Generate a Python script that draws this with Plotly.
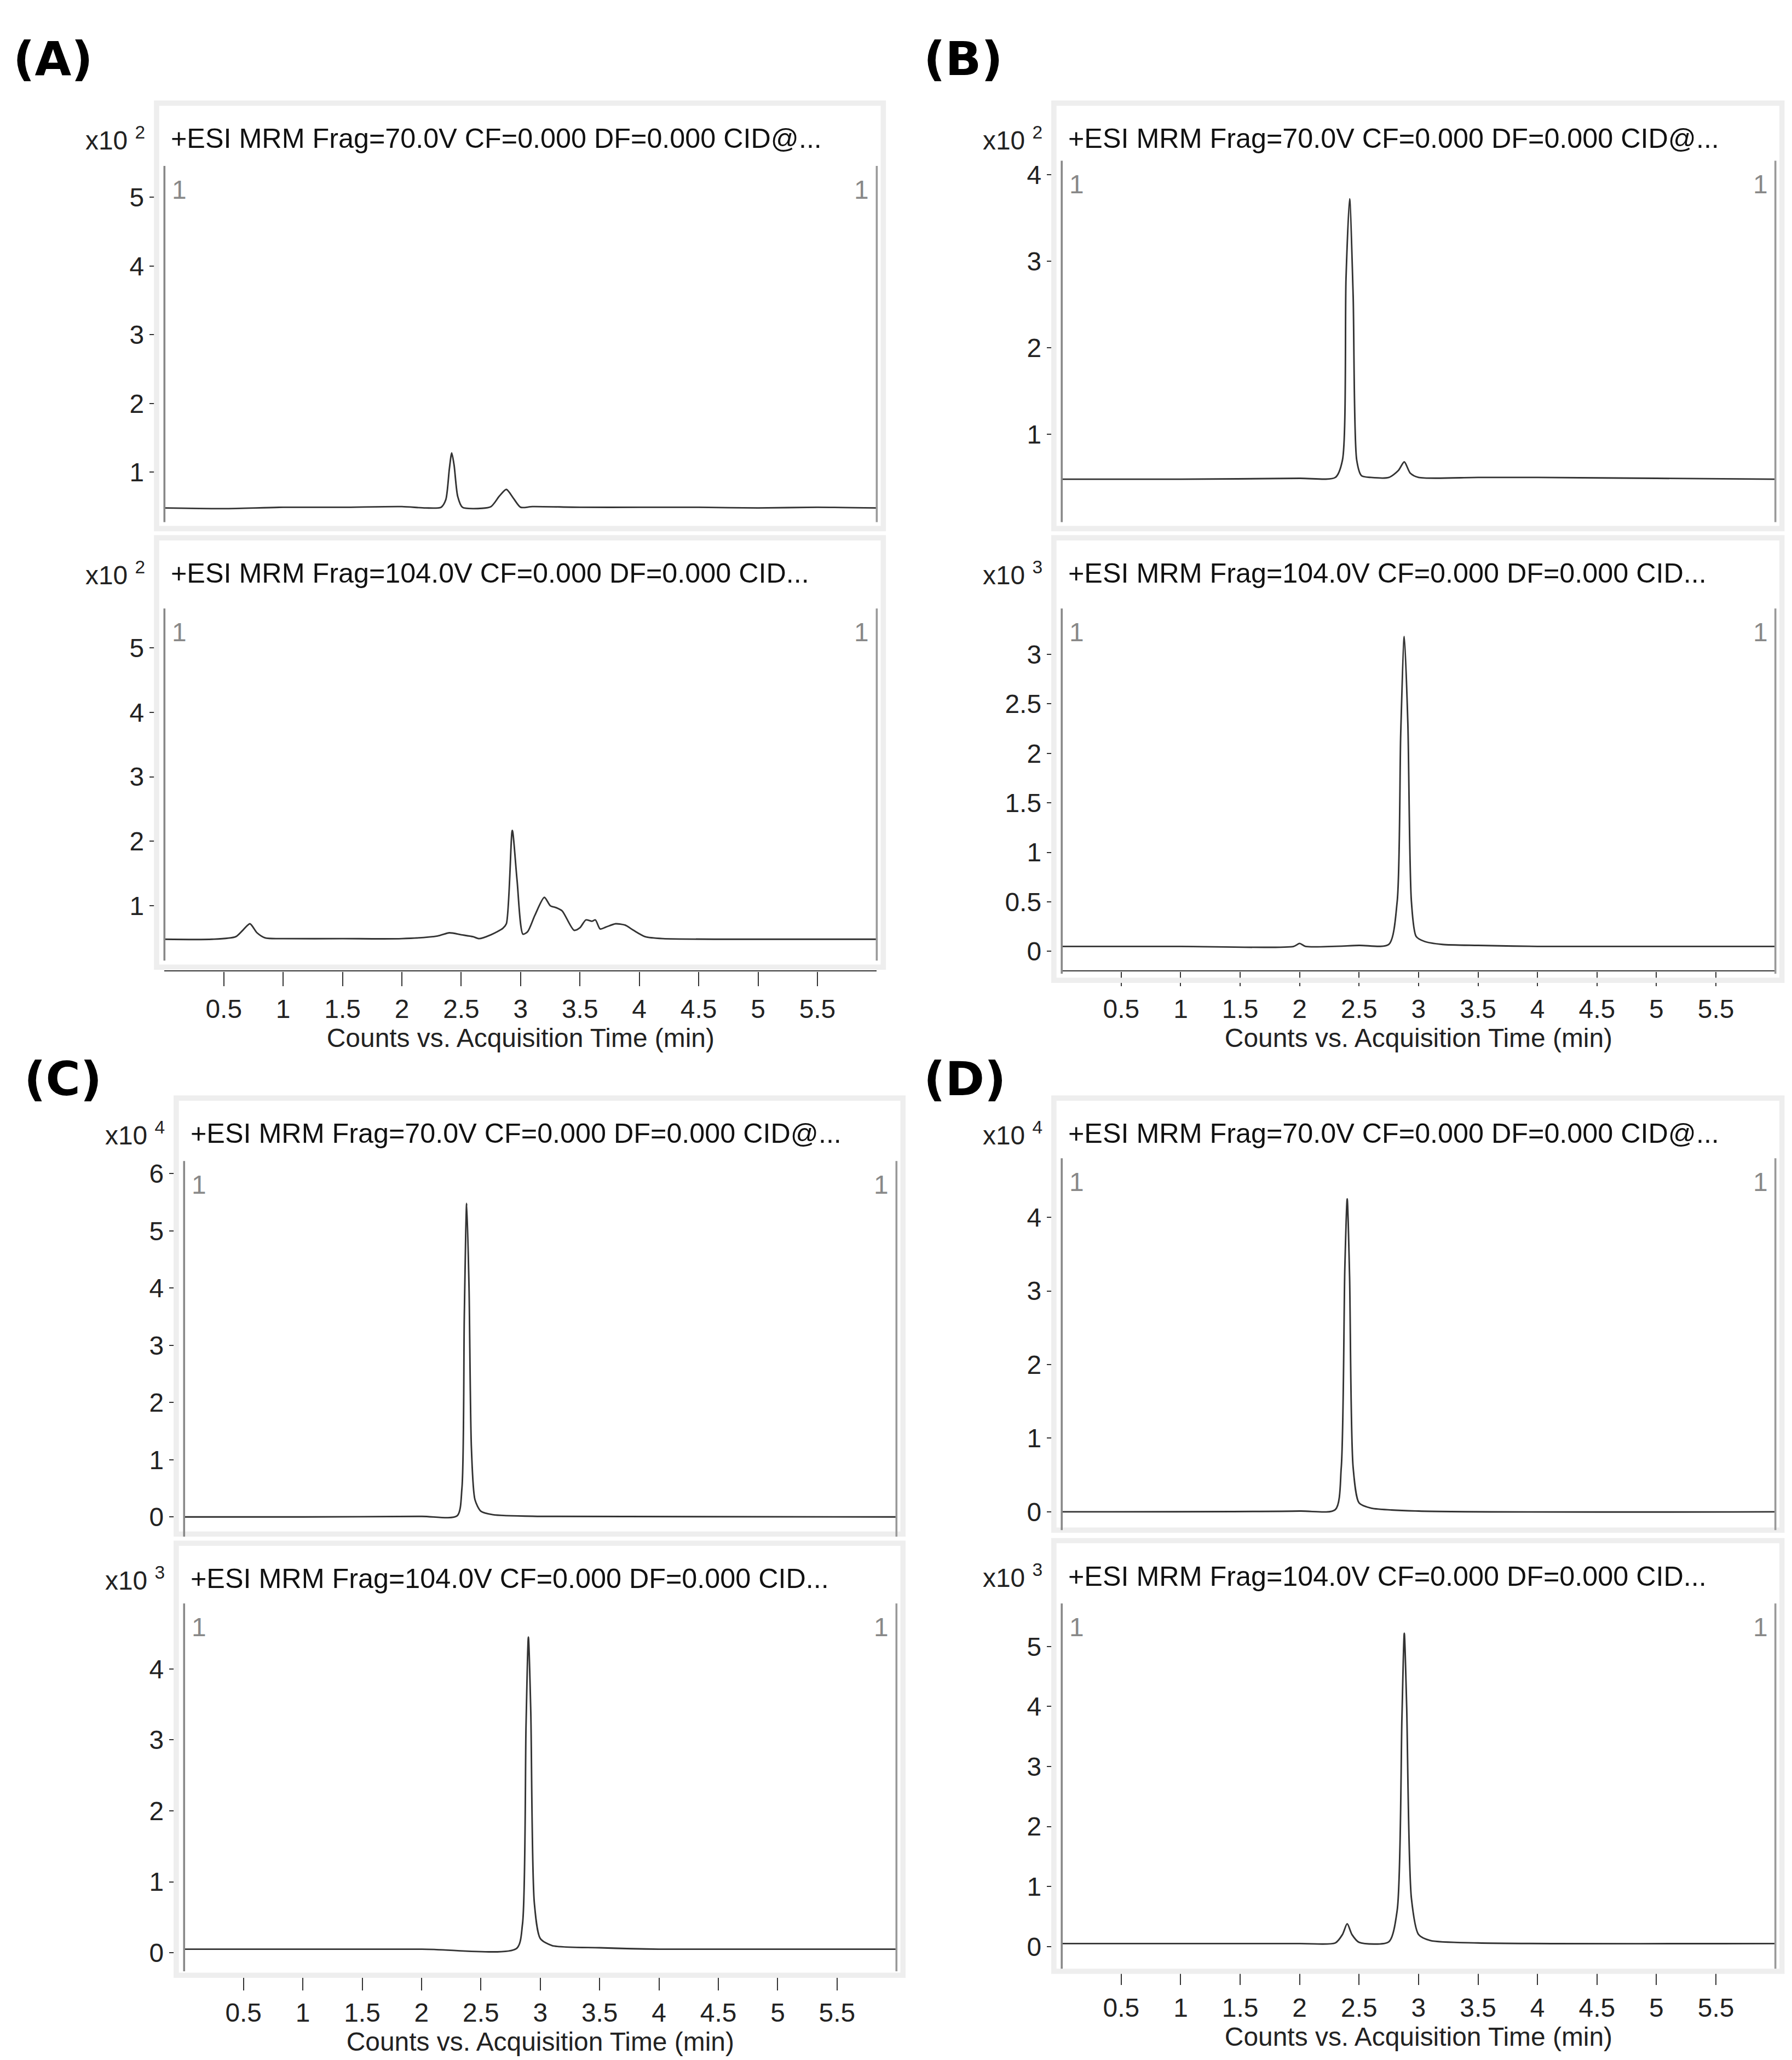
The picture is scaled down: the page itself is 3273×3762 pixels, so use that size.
import plotly.graph_objects as go

# chromatogram traces (time in min, counts in panel units)
a_top_t = [0, 0.5, 1, 1.5, 2, 2.2, 2.33, 2.37, 2.40, 2.42, 2.44, 2.47, 2.51, 2.6, 2.75, 2.82, 2.88, 2.94, 3.0, 3.1, 3.5, 4, 4.5, 5, 5.5, 6]
a_top_y = [0.48, 0.47, 0.49, 0.49, 0.50, 0.48, 0.49, 0.6, 1.05, 1.28, 1.1, 0.65, 0.49, 0.47, 0.5, 0.65, 0.75, 0.62, 0.49, 0.50, 0.49, 0.49, 0.49, 0.48, 0.49, 0.48]

a_bot_t = [0, 0.4, 0.6, 0.66, 0.72, 0.78, 0.85, 1, 1.5, 2, 2.3, 2.4, 2.5, 2.6, 2.65, 2.75, 2.85, 2.88, 2.93, 2.97, 3.02, 3.06, 3.12, 3.2, 3.25, 3.3,
           3.35, 3.45, 3.5, 3.55, 3.6, 3.63, 3.67, 3.72, 3.8, 3.88, 3.95, 4.05, 4.2, 5, 6]
a_bot_y = [0.48, 0.48, 0.52, 0.62, 0.72, 0.58, 0.5, 0.49, 0.49, 0.49, 0.53, 0.58, 0.55, 0.52, 0.49, 0.55, 0.65, 0.72, 2.17, 1.4, 0.56, 0.6, 0.85, 1.13, 1.0, 0.97,
           0.92, 0.62, 0.66, 0.78, 0.76, 0.78, 0.64, 0.67, 0.72, 0.70, 0.62, 0.52, 0.49, 0.48, 0.48]

b_top_t = [0, 1, 2, 2.3, 2.36, 2.39, 2.42, 2.45, 2.48, 2.52, 2.6, 2.75, 2.83, 2.88, 2.93, 3.0, 3.5, 4, 5, 6]
b_top_y = [0.48, 0.48, 0.49, 0.5, 0.7, 2.8, 3.72, 2.6, 0.7, 0.52, 0.5, 0.5, 0.58, 0.68, 0.55, 0.5, 0.5, 0.5, 0.49, 0.48]

b_bot_t = [0, 1, 1.95, 2.0, 2.05, 2.5, 2.75, 2.82, 2.85, 2.88, 2.91, 2.94, 2.98, 3.05, 3.2, 3.5, 4, 6]
b_bot_y = [0.05, 0.05, 0.05, 0.08, 0.05, 0.06, 0.07, 0.5, 2.2, 3.18, 2.3, 0.5, 0.15, 0.1, 0.07, 0.06, 0.05, 0.05]

c_top_t = [0, 1, 2, 2.3, 2.34, 2.36, 2.38, 2.40, 2.42, 2.45, 2.5, 2.6, 3, 6]
c_top_y = [0, 0, 0.01, 0.02, 0.5, 3.5, 5.48, 4, 1.2, 0.3, 0.1, 0.04, 0.01, 0]

c_bot_t = [0, 2, 2.8, 2.85, 2.88, 2.90, 2.92, 2.95, 3.0, 3.1, 3.5, 4, 6]
c_bot_y = [0.05, 0.05, 0.06, 0.4, 3.2, 4.45, 3.4, 0.7, 0.2, 0.1, 0.07, 0.05, 0.05]

d_top_t = [0, 2, 2.3, 2.35, 2.38, 2.40, 2.42, 2.45, 2.5, 2.6, 3, 6]
d_top_y = [0, 0.01, 0.03, 0.6, 3.3, 4.25, 3.2, 0.6, 0.12, 0.05, 0.01, 0]

d_bot_t = [0, 2, 2.3, 2.36, 2.40, 2.44, 2.5, 2.75, 2.82, 2.86, 2.88, 2.90, 2.94, 3.0, 3.1, 3.5, 6]
d_bot_y = [0.05, 0.05, 0.06, 0.2, 0.38, 0.2, 0.07, 0.08, 0.6, 3.8, 5.22, 4.0, 0.8, 0.2, 0.1, 0.06, 0.05]

x_ticks = [0.5, 1, 1.5, 2, 2.5, 3, 3.5, 4, 4.5, 5, 5.5]
x_tick_text = ['0.5', '1', '1.5', '2', '2.5', '3', '3.5', '4', '4.5', '5', '5.5']

title_70 = '+ESI MRM Frag=70.0V CF=0.000 DF=0.000 CID@...'
title_104 = '+ESI MRM Frag=104.0V CF=0.000 DF=0.000 CID...'

W, H = 3273, 3762
S = W / 1366.0   # layout below is measured on a 1366 wide copy
FONT = 'Liberation Sans'
TXT = 20 * S


def px(x):
    return x / 1366.0


def py(y):
    return 1 - y / 1566.0


fig = go.Figure()
shapes = []
annotations = []
layout = {}

# (label, label pos, plot x0/x1, [top panel, bottom panel], x axis y pos)
# each panel: (times, values, exponent, box top, plot top, plot bottom, box bottom, y range, tick values, title)
panels = [
    ('(A)', (6, 36), 122, 665, [
        (a_top_t, a_top_y, 2, 70, 122, 385, 395, [0.37, 5.38], [1, 2, 3, 4, 5], title_70),
        (a_bot_t, a_bot_y, 2, 402, 460, 720, 730, [0.25, 5.53], [1, 2, 3, 4, 5], title_104),
    ], 733),
    ('(B)', (700, 36), 806, 1350, [
        (b_top_t, b_top_y, 2, 70, 118, 385, 395, [0.06, 4.1], [1, 2, 3, 4], title_70),
        (b_bot_t, b_bot_y, 3, 402, 460, 730, 740, [-0.16, 3.41], [0, 0.5, 1, 1.5, 2, 2.5, 3], title_104),
    ], 733),
    ('(C)', (14, 815), 137, 680, [
        (c_top_t, c_top_y, 4, 830, 882, 1160, 1163, [-0.23, 6.13], [0, 1, 2, 3, 4, 5, 6], title_70),
        (c_bot_t, c_bot_y, 3, 1170, 1220, 1492, 1500, [-0.17, 4.85], [0, 1, 2, 3, 4], title_104),
    ], 1500),
    ('(D)', (700, 815), 806, 1350, [
        (d_top_t, d_top_y, 4, 830, 880, 1155, 1160, [-0.16, 4.73], [0, 1, 2, 3, 4], title_70),
        (d_bot_t, d_bot_y, 3, 1168, 1220, 1490, 1497, [-0.26, 5.63], [0, 1, 2, 3, 4, 5], title_104),
    ], 1496),
]

n = 0
for label, (lx, ly), x0, x1, subs, x_axis_y in panels:
    annotations.append(dict(text='<b>' + label + '</b>', x=px(lx), y=py(ly), xref='paper', yref='paper',
                            xanchor='left', yanchor='middle', showarrow=False,
                            font=dict(family='DejaVu Sans', size=36 * S, color='black')))
    for k, (t, v, e, box_top, p_top, p_bot, box_bot, yr, yt, title) in enumerate(subs):
        n += 1
        xa = 'xaxis' if n == 1 else 'xaxis%d' % n
        ya = 'yaxis' if n == 1 else 'yaxis%d' % n
        xr = 'x' if n == 1 else 'x%d' % n
        yr_ = 'y' if n == 1 else 'y%d' % n
        fig.add_trace(go.Scatter(x=t, y=v, mode='lines',
                                 line=dict(color='#333333', width=1.2 * S, shape='spline', smoothing=0.7),
                                 xaxis=xr, yaxis=yr_, showlegend=False, hoverinfo='skip'))
        last = k == len(subs) - 1
        layout[ya] = dict(domain=[py(p_bot), py(p_top)], range=yr, tickvals=yt, anchor='free',
                          position=px(x0 - 5), showline=True, linecolor='#333333', linewidth=1 * S,
                          ticks='outside', ticklen=6 * S, tickwidth=1 * S, tickcolor='#333333',
                          showgrid=False, zeroline=False,
                          tickfont=dict(family=FONT, size=TXT, color='#222222'))
        layout[xa] = dict(domain=[px(x0), px(x1)], range=[0, 6], showgrid=False, zeroline=False,
                          anchor='free', position=py(x_axis_y), tickvals=x_ticks, ticktext=x_tick_text,
                          visible=last, showline=True, linecolor='#333333', linewidth=1 * S,
                          ticks='outside', ticklen=11 * S, tickwidth=1 * S, tickcolor='#333333',
                          tickfont=dict(family=FONT, size=TXT, color='#222222'))
        if last:
            layout[xa]['title'] = dict(text='Counts vs. Acquisition Time (min)', standoff=2 * S,
                                       font=dict(family=FONT, size=TXT, color='#222222'))
        # light grey header frame
        shapes.append(dict(type='rect', xref='paper', yref='paper', x0=px(x0 - 6), x1=px(x1 + 5),
                           y0=py(box_bot), y1=py(box_top), line=dict(color='#eeeeee', width=4 * S)))
        # left and right grey border lines of the plot
        for xx, col in ((x0, '#888888'), (x1, '#999999')):
            shapes.append(dict(type='line', xref='paper', yref='paper', x0=px(xx), x1=px(xx),
                               y0=py(p_bot + 5), y1=py(p_top - 4), line=dict(color=col, width=1.5 * S)))
        annotations.append(dict(text=title, x=px(x0 + 4), y=py(box_top + 27), xref='paper', yref='paper',
                                xanchor='left', yanchor='middle', showarrow=False,
                                font=dict(family=FONT, size=21 * S, color='#111111')))
        annotations.append(dict(text='x10 <sup>%d</sup>' % e, x=px(x0 - 14), y=py(box_top + 27),
                                xref='paper', yref='paper', xanchor='right', yanchor='middle', showarrow=False,
                                font=dict(family=FONT, size=TXT, color='#222222')))
        for xx, anc in ((x0 + 5, 'left'), (x1 - 5, 'right')):
            annotations.append(dict(text='1', x=px(xx), y=py(p_top + 14), xref='paper', yref='paper',
                                    xanchor=anc, yanchor='middle', showarrow=False,
                                    font=dict(family=FONT, size=TXT, color='#888888')))

fig.update_layout(width=W, height=H, margin=dict(l=0, r=0, t=0, b=0), plot_bgcolor='white',
                  paper_bgcolor='white', shapes=shapes, annotations=annotations, **layout)

fig.write_html('out.html')
